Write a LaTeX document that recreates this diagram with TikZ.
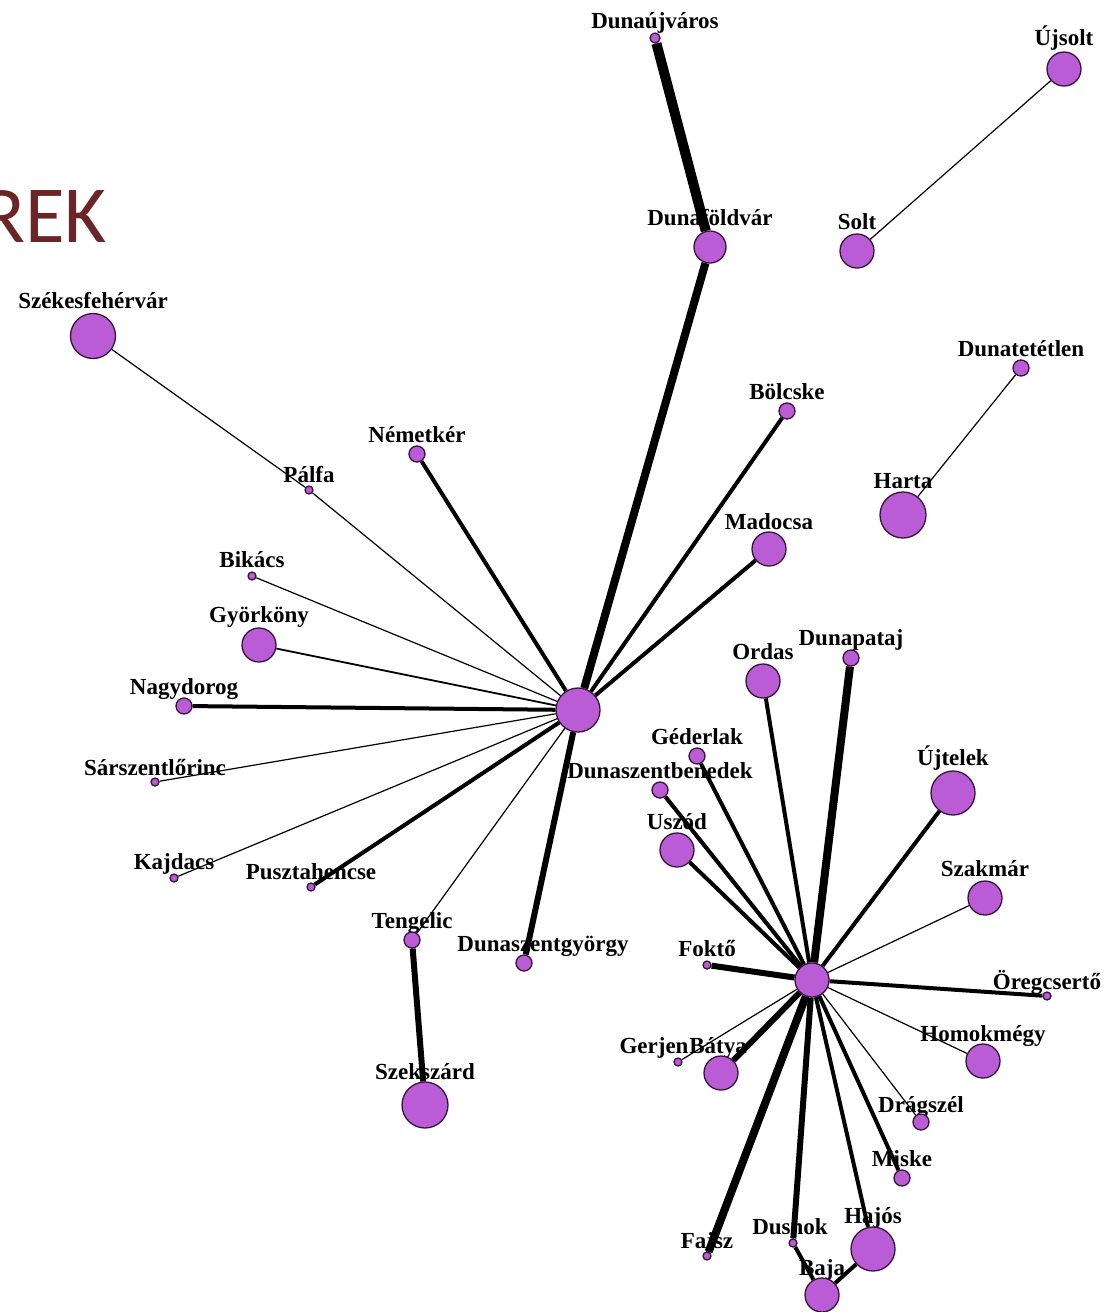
\documentclass[tikz,border=0pt]{standalone}
\usepackage{fontspec}
\setmainfont{Liberation Serif}
\newfontfamily\titlefont{Carlito}
\definecolor{townfill}{RGB}{186,92,214}
\definecolor{townline}{RGB}{55,20,55}
\definecolor{titlered}{RGB}{107,37,38}
\begin{document}
\begin{tikzpicture}[x=1pt,y=-1pt,
  town/.style={circle,draw=townline,fill=townfill,line width=1.3pt,inner sep=0pt,minimum size=#1},
  lbl/.style={font=\fontsize{23}{26}\selectfont\bfseries,inner sep=0pt,anchor=base},
  w1/.style={black,line width=1.2pt},
  w2/.style={black,line width=1.8pt},
  w4/.style={black,line width=4pt},
  w6/.style={black,line width=6pt},
  w8/.style={black,line width=8pt},
  w10/.style={black,line width=10pt}]
\useasboundingbox (0,0) rectangle (1104,1312);
\node [font=\titlefont\fontsize{81}{90}\selectfont,text=titlered,inner sep=0pt,anchor=base east] (title) at (107,242) {REK};
\node [lbl] (dujv-l) at (655,28) {Dunaújváros};
\node [lbl] (ujsolt-l) at (1064,45) {Újsolt};
\node [lbl] (dfv-l) at (710,225) {Dunaföldvár};
\node [lbl] (solt-l) at (857,229) {Solt};
\node [lbl] (szfv-l) at (93,308) {Székesfehérvár};
\node [lbl] (dtet-l) at (1021,356) {Dunatetétlen};
\node [lbl] (bolcske-l) at (787,399) {Bölcske};
\node [lbl] (nemetker-l) at (417,442) {Németkér};
\node [lbl] (palfa-l) at (309,482) {Pálfa};
\node [lbl] (harta-l) at (903,488) {Harta};
\node [lbl] (madocsa-l) at (769,529) {Madocsa};
\node [lbl] (bikacs-l) at (252,567) {Bikács};
\node [lbl] (gyorkony-l) at (259,622) {Györköny};
\node [lbl] (dpataj-l) at (851,645) {Dunapataj};
\node [lbl] (ordas-l) at (763,659) {Ordas};
\node [lbl] (nagydorog-l) at (184,694) {Nagydorog};
\node [lbl] (gederlak-l) at (697,744) {Géderlak};
\node [lbl] (sarszl-l) at (155,775) {Sárszentlőrinc};
\node [lbl] (dszb-l) at (660,778) {Dunaszentbenedek};
\node [lbl] (ujtelek-l) at (953,765) {Újtelek};
\node [lbl] (uszod-l) at (677,829) {Uszód};
\node [lbl] (kajdacs-l) at (174,869) {Kajdacs};
\node [lbl] (pht-l) at (311,879) {Pusztahencse};
\node [lbl] (szakmar-l) at (985,876) {Szakmár};
\node [lbl] (tengelic-l) at (412,928) {Tengelic};
\node [lbl] (dszgy-l) at (543,951) {Dunaszentgyörgy};
\node [lbl] (fokto-l) at (707,956) {Foktő};
\node [lbl] (oregcs-l) at (1047,989) {Öregcsertő};
\node [lbl] (gerjen-l) at (654,1053) {Gerjen};
\node [lbl] (batya-l) at (718,1053) {Bátya};
\node [lbl] (homok-l) at (983,1041) {Homokmégy};
\node [lbl] (szekszard-l) at (425,1079) {Szekszárd};
\node [lbl] (dragszel-l) at (921,1112) {Drágszél};
\node [lbl] (miske-l) at (902,1166) {Miske};
\node [lbl] (hajos-l) at (873,1223) {Hajós};
\node [lbl] (fajsz-l) at (707,1248) {Fajsz};
\node [lbl] (dusnok-l) at (790,1234) {Dusnok};
\node [lbl] (baja-l) at (822,1275) {Baja};
\node [town=10] (dujv) at (655,38) {};
\node [town=34] (ujsolt) at (1064,69) {};
\node [town=32] (dfv) at (710,247) {};
\node [town=34] (solt) at (857,251) {};
\node [town=45] (szfv) at (93,336) {};
\node [town=16] (dtet) at (1021,368) {};
\node [town=16] (bolcske) at (787,411) {};
\node [town=16] (nemetker) at (417,454) {};
\node [town=8] (palfa) at (309,490) {};
\node [town=46] (harta) at (903,515) {};
\node [town=34] (madocsa) at (769,549) {};
\node [town=8] (bikacs) at (252,576) {};
\node [town=34] (gyorkony) at (259,645) {};
\node [town=16] (dpataj) at (851,658) {};
\node [town=34] (ordas) at (763,681) {};
\node [town=16] (nagydorog) at (184,706) {};
\node [town=44] (hubA) at (578,710) {};
\node [town=16] (gederlak) at (697,756) {};
\node [town=8] (sarszl) at (155,782) {};
\node [town=16] (dszb) at (660,790) {};
\node [town=44] (ujtelek) at (953,793) {};
\node [town=34] (uszod) at (677,850) {};
\node [town=8] (kajdacs) at (174,878) {};
\node [town=8] (pht) at (311,887) {};
\node [town=34] (szakmar) at (985,898) {};
\node [town=16] (tengelic) at (412,940) {};
\node [town=16] (dszgy) at (524,963) {};
\node [town=8] (fokto) at (707,965) {};
\node [town=34] (hubB) at (812,980) {};
\node [town=8] (oregcs) at (1047,996) {};
\node [town=8] (gerjen) at (678,1062) {};
\node [town=34] (batya) at (721,1073) {};
\node [town=34] (homok) at (983,1061) {};
\node [town=46] (szekszard) at (425,1105) {};
\node [town=16] (dragszel) at (921,1122) {};
\node [town=16] (miske) at (902,1178) {};
\node [town=44] (hajos) at (873,1249) {};
\node [town=8] (fajsz) at (707,1256) {};
\node [town=8] (dusnok) at (793,1243) {};
\node [town=34] (baja) at (822,1295) {};
\draw [w10] (dujv) -- (dfv);
\draw [w8] (dfv) -- (hubA);
\draw [w1] (solt) -- (ujsolt);
\draw [w1] (harta) -- (dtet);
\draw [w4] (bolcske) -- (hubA);
\draw [w4] (madocsa) -- (hubA);
\draw [w4] (nemetker) -- (hubA);
\draw [w1] (szfv) -- (palfa);
\draw [w1] (palfa) -- (hubA);
\draw [w1] (bikacs) -- (hubA);
\draw [w2] (gyorkony) -- (hubA);
\draw [w4] (nagydorog) -- (hubA);
\draw [w1] (sarszl) -- (hubA);
\draw [w1] (kajdacs) -- (hubA);
\draw [w4] (pht) -- (hubA);
\draw [w1] (tengelic) -- (hubA);
\draw [w6] (dszgy) -- (hubA);
\draw [w6] (tengelic) -- (szekszard);
\draw [w8] (dpataj) -- (hubB);
\draw [w4] (ordas) -- (hubB);
\draw [w4] (gederlak) -- (hubB);
\draw [w4] (dszb) -- (hubB);
\draw [w4] (uszod) -- (hubB);
\draw [w4] (ujtelek) -- (hubB);
\draw [w1] (szakmar) -- (hubB);
\draw [w4] (oregcs) -- (hubB);
\draw [w6] (fokto) -- (hubB);
\draw [w1] (gerjen) -- (hubB);
\draw [w6] (batya) -- (hubB);
\draw [w1] (homok) -- (hubB);
\draw [w1] (dragszel) -- (hubB);
\draw [w4] (miske) -- (hubB);
\draw [w4] (hajos) -- (hubB);
\draw [w8] (fajsz) -- (hubB);
\draw [w6] (dusnok) -- (hubB);
\draw [w4] (dusnok) -- (baja);
\draw [w4] (baja) -- (hajos);
\end{tikzpicture}
\end{document}
